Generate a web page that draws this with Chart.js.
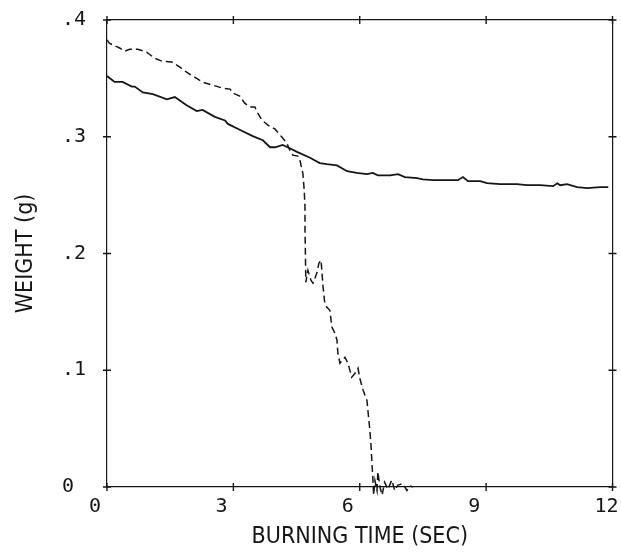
<!DOCTYPE html>
<html>
<head>
<meta charset="utf-8">
<script src="https://cdn.jsdelivr.net/npm/chart.js@4.4.1/dist/chart.umd.min.js"></script>
<style>
  html, body { margin: 0; padding: 0; background: #ffffff; }
  #wrap { width: 621px; height: 557px; }
</style>
</head>
<body>
<div id="wrap"><canvas id="c" width="621" height="557"></canvas></div>
<script>
// Burning time (s) and sample weight (g) for the two runs
const timeSolid = [0, 0.18, 0.37, 0.59, 0.66, 0.85, 1.09, 1.42, 1.61, 1.89,
  2.13, 2.27, 2.56, 2.80, 2.87, 3.15, 3.46, 3.70, 3.87, 3.99,
  4.17, 4.29, 4.51, 4.82, 5.05, 5.22, 5.46, 5.70, 5.93, 6.17,
  6.31, 6.43, 6.72, 6.91, 7.07, 7.36, 7.50, 7.74, 8.07, 8.33,
  8.45, 8.57, 8.86, 9.02, 9.33, 9.73, 9.97, 10.28, 10.59, 10.69,
  10.76, 10.92, 11.16, 11.40, 11.71, 11.90];
const weightSolid = [0.352, 0.347, 0.347, 0.343, 0.343, 0.338, 0.3365, 0.332, 0.334, 0.327,
  0.322, 0.323, 0.317, 0.314, 0.311, 0.306, 0.3005, 0.297, 0.291, 0.291,
  0.293, 0.291, 0.287, 0.282, 0.2775, 0.2765, 0.2755, 0.2705, 0.269, 0.268,
  0.269, 0.267, 0.267, 0.268, 0.2655, 0.2645, 0.2635, 0.2628, 0.2628, 0.2628,
  0.2655, 0.262, 0.262, 0.2602, 0.2594, 0.2594, 0.2585, 0.2585, 0.2577, 0.2602,
  0.2585, 0.2594, 0.2568, 0.256, 0.2568, 0.2568];

const timeDashed = [0, 0.06, 0.30, 0.42, 0.54, 0.73, 0.94, 1.13, 1.30, 1.54,
  1.73, 1.89, 2.08, 2.27, 2.51, 2.75, 2.92, 2.99, 3.15, 3.27,
  3.39, 3.51, 3.58, 3.68, 3.82, 3.99, 4.15, 4.27, 4.34, 4.41,
  4.53, 4.58, 4.63, 4.65, 4.68, 4.70, 4.70, 4.71, 4.72, 4.77,
  4.84, 4.89, 4.98, 5.03, 5.08, 5.10, 5.13, 5.17, 5.22, 5.29,
  5.34, 5.41, 5.46, 5.48, 5.53, 5.65, 5.72, 5.81, 5.89, 5.96,
  6.00, 6.08, 6.17, 6.20, 6.24, 6.27, 6.29, 6.31, 6.33, 6.36,
  6.41, 6.43, 6.48, 6.53, 6.59, 6.67, 6.76, 6.83, 6.90, 7.02,
  7.12, 7.19, 7.26];
const weightDashed = [0.383, 0.380, 0.376, 0.3733, 0.375, 0.375, 0.3725, 0.3673, 0.3648, 0.364,
  0.3596, 0.3553, 0.351, 0.3467, 0.3442, 0.3416, 0.3408, 0.3374, 0.3348, 0.3288,
  0.3254, 0.3254, 0.3202, 0.3142, 0.3099, 0.3065, 0.2997, 0.2945, 0.2885, 0.2842,
  0.2834, 0.280, 0.2714, 0.2687, 0.255, 0.240, 0.220, 0.200, 0.1753, 0.1856,
  0.1771, 0.1745, 0.1831, 0.1917, 0.1943, 0.1856, 0.171, 0.1574, 0.154, 0.1514,
  0.1369, 0.1317, 0.1257, 0.1146, 0.106, 0.1111, 0.106, 0.094, 0.0974, 0.1017,
  0.0932, 0.0829, 0.0743, 0.0632, 0.0486, 0.034, 0.020, 0.008, -0.007, 0.0057,
  -0.003, 0.013, 0, -0.007, 0.004, -0.002, 0.006, -0.003, 0.0015, 0.003,
  -0.003, 0.001, 0];

// Axis ticks and their printed labels
const xTicks = [0, 3, 6, 9, 12];
const xTickLabels = ['0', '3', '6', '9', '12'];
const yTicks = [0, 0.1, 0.2, 0.3, 0.4];
const yTickLabels = ['0', '.1', '.2', '.3', '.4'];

const xTitle = 'BURNING TIME (SEC)';
const yTitle = 'WEIGHT (g)';

const toPoints = (xs, ys) => xs.map((x, i) => ({ x: x, y: ys[i] }));

const INK = '#161616';
const tickFont = { family: "'DejaVu Sans Mono', monospace", size: 20 };
// condensed face of DejaVu Sans, selected through the font shorthand
const titleFont = { family: "'DejaVu Sans', sans-serif", weight: 'normal condensed', size: 23 };

// Small "+" tick crosses on all four sides of the frame
const crossTicks = {
  id: 'crossTicks',
  afterDatasetsDraw(chart) {
    const { ctx, chartArea: a, scales } = chart;
    const L = 4;
    ctx.save();
    ctx.strokeStyle = INK;
    ctx.lineWidth = 1.4;
    ctx.beginPath();
    xTicks.forEach(v => {
      const px = scales.x.getPixelForValue(v);
      ctx.moveTo(px, a.bottom - L); ctx.lineTo(px, a.bottom + L);
      ctx.moveTo(px, a.top - L); ctx.lineTo(px, a.top + L);
    });
    yTicks.forEach(v => {
      const py = scales.y.getPixelForValue(v);
      ctx.moveTo(a.left - L, py); ctx.lineTo(a.left + L, py);
      ctx.moveTo(a.right - L, py); ctx.lineTo(a.right + L, py);
    });
    ctx.stroke();
    ctx.restore();
  }
};

const frameBorder = { display: true, color: INK, width: 1.2 };
const noGrid = { display: true, drawOnChartArea: false, drawTicks: false };

new Chart(document.getElementById('c'), {
  type: 'line',
  data: {
    datasets: [
      {
        data: toPoints(timeSolid, weightSolid),
        borderColor: INK,
        borderWidth: 1.8,
        pointRadius: 0,
        tension: 0,
        fill: false
      },
      {
        data: toPoints(timeDashed, weightDashed),
        borderColor: INK,
        borderWidth: 1.5,
        borderDash: [7, 4],
        pointRadius: 0,
        tension: 0,
        fill: false,
        clip: false
      }
    ]
  },
  options: {
    responsive: false,
    animation: false,
    devicePixelRatio: 1,
    layout: { autoPadding: false, padding: { left: 62, top: 0, right: 0, bottom: 0 } },
    plugins: { legend: { display: false }, tooltip: { enabled: false } },
    scales: {
      x: {
        type: 'linear', position: 'bottom', min: 0, max: 12,
        afterBuildTicks: s => { s.ticks = xTicks.map(v => ({ value: v })); },
        afterFit: s => { s.height = 70; s.paddingLeft = 0; s.paddingRight = 0; },
        grid: noGrid,
        border: frameBorder,
        ticks: {
          color: INK, font: tickFont, padding: 8, align: 'start', labelOffset: -18,
          maxRotation: 0, autoSkip: false,
          callback: (v) => xTickLabels[xTicks.indexOf(v)]
        },
        title: { display: true, text: xTitle, color: INK, font: titleFont, padding: { top: 0, bottom: 6 } }
      },
      x2: {
        type: 'linear', position: 'top', min: 0, max: 12,
        afterFit: s => { s.height = 20; s.paddingLeft = 0; s.paddingRight = 0; },
        grid: noGrid,
        border: frameBorder,
        ticks: { display: false }
      },
      y: {
        type: 'linear', position: 'left', min: 0, max: 0.4,
        afterBuildTicks: s => { s.ticks = yTicks.map(v => ({ value: v })); },
        afterFit: s => { s.width = 45; s.paddingTop = 0; s.paddingBottom = 0; },
        grid: noGrid,
        border: frameBorder,
        ticks: {
          color: INK, font: tickFont, crossAlign: 'far', autoSkip: false,
          callback: (v) => yTickLabels[yTicks.indexOf(v)]
        },
        title: { display: true, text: yTitle, color: INK, font: titleFont, padding: { top: -50, bottom: 0 } }
      },
      y2: {
        type: 'linear', position: 'right', min: 0, max: 0.4,
        afterFit: s => { s.width = 8.5; s.paddingTop = 0; s.paddingBottom = 0; },
        grid: noGrid,
        border: frameBorder,
        ticks: { display: false }
      }
    }
  },
  plugins: [crossTicks]
});
</script>
</body>
</html>
